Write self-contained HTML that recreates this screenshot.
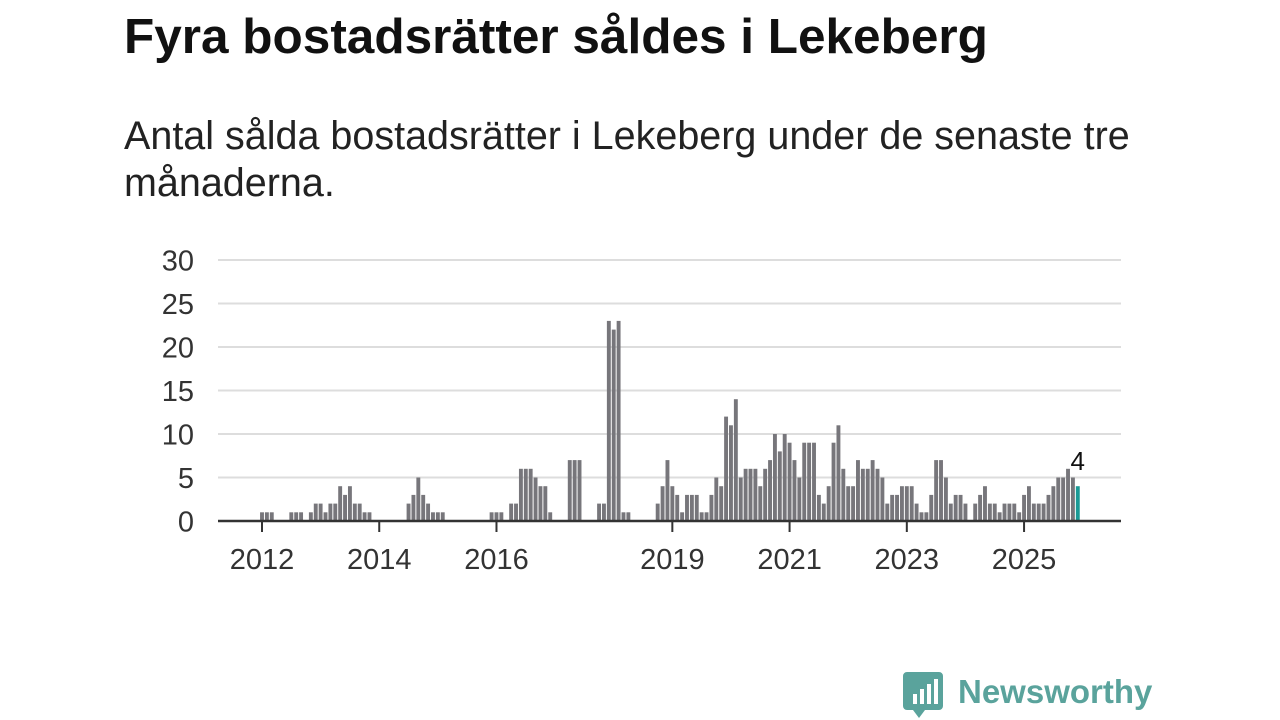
<!DOCTYPE html>
<html><head><meta charset="utf-8"><style>
body{margin:0;background:#fff;width:1280px;height:720px;overflow:hidden;font-family:"Liberation Sans",sans-serif}
#title{position:absolute;left:124px;top:8px;font-size:49.5px;font-weight:bold;color:#111;margin:0;white-space:nowrap}
#sub{position:absolute;left:124px;top:113px;font-size:39.5px;line-height:47px;color:#222;width:1040px;margin:0}
svg{position:absolute;left:0;top:0}
</style></head><body>
<h1 id="title">Fyra bostadsrätter såldes i Lekeberg</h1>
<p id="sub">Antal sålda bostadsrätter i Lekeberg under de senaste tre månaderna.</p>
<svg id="chart" width="1280" height="720"></svg>
<script>
const values=[1,1,1,0,0,0,1,1,1,0,1,2,2,1,2,2,4,3,4,2,2,1,1,0,0,0,0,0,0,0,2,3,5,3,2,1,1,1,0,0,0,0,0,0,0,0,0,1,1,1,0,2,2,6,6,6,5,4,4,1,0,0,0,7,7,7,0,0,0,2,2,23,22,23,1,1,0,0,0,0,0,2,4,7,4,3,1,3,3,3,1,1,3,5,4,12,11,14,5,6,6,6,4,6,7,10,8,10,9,7,5,9,9,9,3,2,4,9,11,6,4,4,7,6,6,7,6,5,2,3,3,4,4,4,2,1,1,3,7,7,5,2,3,3,2,0,2,3,4,2,2,1,2,2,2,1,3,4,2,2,2,3,4,5,5,6,5,4];
const yTicks=[0,5,10,15,20,25,30];
const xTickYears=[2012,2014,2016,2019,2021,2023,2025];
const startYear=2012;
const NS="http://www.w3.org/2000/svg";
const svg=document.getElementById('chart');
const x=i=>262+4.885*i;
const y=v=>521-8.7*v;
function mk(t,a){const e=document.createElementNS(NS,t);for(const k in a)e.setAttribute(k,a[k]);svg.appendChild(e);return e;}
yTicks.forEach(v=>{
  if(v>0){const g=mk('line',{x1:218,x2:1121,y1:y(v),y2:y(v),stroke:'#ddd','stroke-width':2});
  
  }
  const t=mk('text',{x:194,y:y(v)+10.5,'text-anchor':'end','font-size':29,fill:'#333','font-family':'Liberation Sans, sans-serif'});
  t.textContent=v;
  
  
});
values.forEach((v,i)=>{
  if(v<=0)return;
  const last=i===values.length-1;
  const r=mk('rect',{x:x(i)-1.95,y:y(v),width:3.9,height:521-y(v),fill:last?'#1a9a96':'#77767b'});
  
  
});
const li=values.length-1;
const lab=mk('text',{x:x(li),y:y(values[li])-16,'text-anchor':'middle','font-size':26,fill:'#111','font-family':'Liberation Sans, sans-serif'});
lab.textContent=values[li];


const ax=mk('line',{x1:218,x2:1121,y1:521,y2:521,stroke:'#333','stroke-width':2.5});


xTickYears.forEach(yr=>{
  const xi=x((yr-startYear)*12);
  const tk=mk('line',{x1:xi,x2:xi,y1:521,y2:532,stroke:'#333','stroke-width':2});
  
  
  const t=mk('text',{x:xi,y:569,'text-anchor':'middle','font-size':29,fill:'#333','font-family':'Liberation Sans, sans-serif'});
  t.textContent=yr;
  
  
});
</script>
<svg width="1280" height="720" style="pointer-events:none">
<path d="M907 672 h32 a4 4 0 0 1 4 4 v30 a4 4 0 0 1 -4 4 h-14 l-6 8 l-6 -8 h-6 a4 4 0 0 1 -4 -4 v-30 a4 4 0 0 1 4 -4z" fill="#5aa39c"/>
<rect x="913" y="694" width="4" height="10" fill="#fff"/><rect x="920" y="689" width="4" height="15" fill="#fff"/><rect x="927" y="684" width="4" height="20" fill="#fff"/><rect x="934" y="679" width="4" height="25" fill="#fff"/>
<text x="958" y="703" font-size="33" font-weight="bold" fill="#5aa39c" font-family="Liberation Sans, sans-serif">Newsworthy</text>
</svg>
</body></html>
